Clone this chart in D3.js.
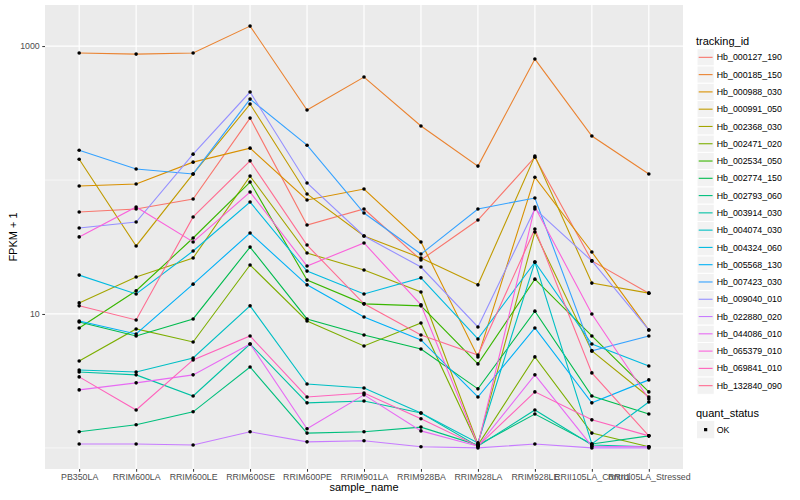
<!DOCTYPE html>
<html>
<head>
<meta charset="utf-8">
<script src="https://cdnjs.cloudflare.com/ajax/libs/d3/7.8.5/d3.min.js"></script>
<style>
  body { margin: 0; background: #fff; }
  text { font-family: "Liberation Sans", Arial, sans-serif; }
</style>
</head>
<body>
<script>

// x categories
var samples = ['PB350LA', 'RRIM600LA', 'RRIM600LE', 'RRIM600SE', 'RRIM600PE', 'RRIM901LA',
               'RRIM928BA', 'RRIM928LA', 'RRIM928LE', 'RRII105LA_Control', 'RRII105LA_Stressed'];

var trackingIds = ['Hb_000127_190', 'Hb_000185_150', 'Hb_000988_030', 'Hb_000991_050', 'Hb_002368_030',
                   'Hb_002471_020', 'Hb_002534_050', 'Hb_002774_150', 'Hb_002793_060', 'Hb_003914_030',
                   'Hb_004074_030', 'Hb_004324_060', 'Hb_005568_130', 'Hb_007423_030', 'Hb_009040_010',
                   'Hb_022880_020', 'Hb_044086_010', 'Hb_065379_010', 'Hb_069841_010', 'Hb_132840_090'];

// ggplot default hue palette for 20 levels
var lineColors = ['#F8766D', '#EA8331', '#D89000', '#C09B00', '#A3A500', '#7CAE00', '#39B600', '#00BB4E',
                  '#00BF7D', '#00C1A3', '#00BFC4', '#00BAE0', '#00B0F6', '#35A2FF', '#9590FF', '#C77CFF',
                  '#E76BF3', '#FA62DB', '#FF62BC', '#FF6C91'];

// FPKM + 1, one array per gene, in sample order
var hb000127 = [57.7, 60.8, 72.1, 290, 46.1, 60.8, 25.3, 50.3, 148, 24.9, 14.3];
var hb000185 = [887, 871, 887, 1410, 333, 587, 253, 127, 800, 213, 111];
var hb000988 = [90.2, 93.4, 136, 173, 70.9, 85.7, 34.5, 4.78, 105, 29.0, 7.60];
var hb000991 = [143, 32.2, 111, 369, 78.7, 38.2, 26.2, 16.5, 151, 17.0, 14.3];
var hb002368 = [12.1, 18.9, 26.2, 107, 28.5, 21.3, 14.6, 1.07, 40.9, 5.30, 2.40];
var hb002471 = [4.46, 7.73, 6.18, 23.2, 8.87, 5.77, 8.57, 1.05, 4.78, 1.29, 1.02];
var hb002534 = [7.86, 14.9, 36.9, 96.6, 17.9, 11.9, 11.5, 4.24, 18.2, 6.85, 2.62];
var hb002774 = [8.71, 6.85, 9.18, 31.6, 9.18, 6.97, 5.48, 2.76, 10.5, 2.44, 1.79];
var hb002793 = [1.32, 1.49, 1.86, 4.02, 1.29, 1.32, 1.43, 1.05, 1.79, 1.07, 1.23];
var hb003914 = [3.69, 3.51, 2.44, 5.97, 2.17, 2.24, 1.82, 1.03, 1.92, 1.05, 1.02];
var hb004074 = [3.82, 3.69, 4.69, 11.5, 3.00, 2.80, 1.82, 1.09, 24.4, 1.07, 2.20];
var hb004324 = [19.5, 14.1, 29.5, 68.5, 20.9, 14.1, 18.6, 6.51, 24.4, 5.97, 4.09];
var hb005568 = [8.87, 7.09, 16.7, 40.2, 16.5, 9.50, 6.40, 2.40, 7.86, 2.17, 3.22];
var hb007423 = [167, 121, 111, 402, 182, 56.7, 28.0, 60.8, 73.4, 5.30, 6.85];
var hb009040 = [43.8, 48.6, 156, 454, 95.0, 38.2, 22.4, 8.00, 60.8, 24.9, 7.60];
var hb022880 = [1.07, 1.07, 1.05, 1.32, 1.11, 1.13, 1.02, 1.00, 1.07, 1.00, 1.00];
var hb044086 = [2.71, 3.06, 3.51, 5.97, 1.39, 2.49, 1.34, 1.03, 3.51, 1.03, 1.02];
var hb065379 = [37.6, 62.9, 34.5, 81.3, 22.8, 33.9, 11.7, 1.05, 62.9, 10.0, 2.32];
var hb069841 = [3.39, 1.92, 4.54, 6.85, 2.40, 2.57, 1.65, 1.03, 2.62, 1.62, 1.23];
var hb132840 = [11.5, 9.02, 53.0, 139, 32.7, 11.9, 6.97, 4.94, 43.1, 3.63, 1.23];

var fpkm = [hb000127, hb000185, hb000988, hb000991, hb002368, hb002471, hb002534, hb002774, hb002793, hb003914,
            hb004074, hb004324, hb005568, hb007423, hb009040, hb022880, hb044086, hb065379, hb069841, hb132840];

var yMajor = [10, 1000];
var yMinor = [1, 100];

var width = 800, height = 500;
var panel = {left: 45, right: 683, top: 5, bottom: 469};

var svg = d3.select('body').append('svg')
  .attr('width', width)
  .attr('height', height);

// x: discrete, ggplot pads 0.6 of a step on each side
var x = d3.scalePoint()
  .domain(samples)
  .range([panel.left, panel.right])
  .padding(0.6);

// y: log10 with 5% expansion of the log range
var allValues = d3.merge(fpkm);
var lo = Math.log10(d3.min(allValues)), hi = Math.log10(d3.max(allValues));
var pad = (hi - lo) * 0.05;
var y = d3.scaleLog()
  .domain([Math.pow(10, lo - pad), Math.pow(10, hi + pad)])
  .range([panel.bottom, panel.top]);

svg.append('rect')
  .attr('x', panel.left).attr('y', panel.top)
  .attr('width', panel.right - panel.left).attr('height', panel.bottom - panel.top)
  .attr('fill', '#EBEBEB');

// grid
svg.selectAll('.minor').data(yMinor).enter().append('line')
  .attr('x1', panel.left).attr('x2', panel.right)
  .attr('y1', function(d) { return y(d); }).attr('y2', function(d) { return y(d); })
  .attr('stroke', '#fff').attr('stroke-width', 0.6);

svg.selectAll('.major').data(yMajor).enter().append('line')
  .attr('x1', panel.left).attr('x2', panel.right)
  .attr('y1', function(d) { return y(d); }).attr('y2', function(d) { return y(d); })
  .attr('stroke', '#fff').attr('stroke-width', 1.2);

svg.selectAll('.vgrid').data(samples).enter().append('line')
  .attr('x1', function(d) { return x(d); }).attr('x2', function(d) { return x(d); })
  .attr('y1', panel.top).attr('y2', panel.bottom)
  .attr('stroke', '#fff').attr('stroke-width', 1.2);

// lines
var line = d3.line()
  .x(function(d, i) { return x(samples[i]); })
  .y(function(d) { return y(d); });

svg.selectAll('.series').data(fpkm).enter().append('path')
  .attr('d', line)
  .attr('fill', 'none')
  .attr('stroke', function(d, i) { return lineColors[i]; })
  .attr('stroke-width', 1.1);

// points
fpkm.forEach(function(vals) {
  svg.selectAll(null).data(vals).enter().append('circle')
    .attr('cx', function(d, i) { return x(samples[i]); })
    .attr('cy', function(d) { return y(d); })
    .attr('r', 1.8)
    .attr('fill', '#000');
});

// axes
var xAxis = svg.append('g')
  .attr('transform', 'translate(0,' + panel.bottom + ')')
  .call(d3.axisBottom(x).tickSize(2.75).tickPadding(2.5));

var yAxis = svg.append('g')
  .attr('transform', 'translate(' + panel.left + ',0)')
  .call(d3.axisLeft(y).tickValues(yMajor).tickFormat(d3.format('d')).tickSize(2.75).tickPadding(2.5));

[xAxis, yAxis].forEach(function(g) {
  g.select('.domain').remove();
  g.selectAll('.tick line').attr('stroke', '#333');
  g.selectAll('.tick text').attr('fill', '#4D4D4D').style('font-size', '8.8px')
    .style('font-family', '"Liberation Sans", Arial, sans-serif');
});

svg.append('text')
  .attr('x', (panel.left + panel.right) / 2).attr('y', 491)
  .attr('text-anchor', 'middle').style('font-size', '11px')
  .text('sample_name');

svg.append('text')
  .attr('transform', 'translate(17,' + (panel.top + panel.bottom) / 2 + ') rotate(-90)')
  .attr('text-anchor', 'middle').style('font-size', '11px')
  .text('FPKM + 1');

// legend: tracking_id
var legend = svg.append('g').attr('transform', 'translate(697,0)');
var keySize = 17.28, keyTop = 48.7;

legend.append('text').attr('x', -1).attr('y', 44.5).style('font-size', '11px').text('tracking_id');

var keys = legend.selectAll('.key').data(trackingIds).enter().append('g')
  .attr('transform', function(d, i) { return 'translate(0,' + (keyTop + i * keySize) + ')'; });

keys.append('rect')
  .attr('width', keySize).attr('height', keySize)
  .attr('fill', '#F2F2F2').attr('stroke', '#fff').attr('stroke-width', 1);

keys.append('line')
  .attr('x1', 1.7).attr('x2', keySize - 1.7)
  .attr('y1', keySize / 2).attr('y2', keySize / 2)
  .attr('stroke', function(d, i) { return lineColors[i]; })
  .attr('stroke-width', 1.1);

keys.append('text')
  .attr('x', keySize + 2.5).attr('y', keySize / 2 + 3.1)
  .style('font-size', '8.8px')
  .text(function(d) { return d; });

// legend: quant_status
var qTop = 421;
legend.append('text').attr('x', -1).attr('y', qTop - 4.5).style('font-size', '11px').text('quant_status');
legend.append('rect')
  .attr('y', qTop).attr('width', keySize).attr('height', keySize)
  .attr('fill', '#F2F2F2');
legend.append('rect')
  .attr('x', keySize / 2 - 1.6).attr('y', qTop + keySize / 2 - 1.6)
  .attr('width', 3.2).attr('height', 3.2).attr('fill', '#000');
legend.append('text')
  .attr('x', keySize + 2.5).attr('y', qTop + keySize / 2 + 3.1)
  .style('font-size', '8.8px').text('OK');

</script>
</body>
</html>
